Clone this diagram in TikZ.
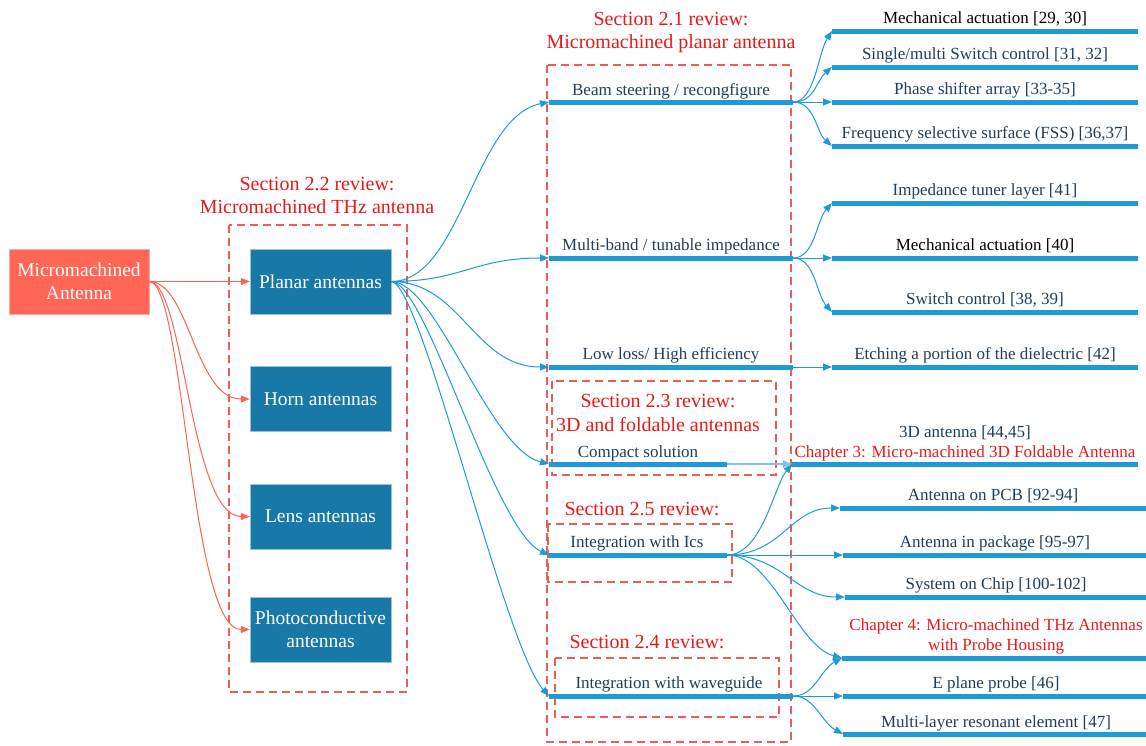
\documentclass[tikz,border=0pt]{standalone}
\usepackage{fontspec}
\setmainfont{Liberation Serif}
\usetikzlibrary{arrows.meta}
\definecolor{salmon}{RGB}{255,102,85}
\definecolor{boxblue}{RGB}{24,120,168}
\definecolor{barblue}{RGB}{30,155,215}
\definecolor{lightbar}{RGB}{125,195,232}
\definecolor{txt}{RGB}{30,62,90}
\definecolor{secred}{RGB}{232,25,25}
\definecolor{dashred}{RGB}{232,95,85}
\definecolor{redline}{RGB}{250,100,85}
\tikzset{
  rootbox/.style={fill=salmon, draw=salmon!55!white, text=white, minimum width=140, minimum height=65, align=center, inner sep=0, font=\fontsize{19.5}{23}\selectfont},
  antbox/.style={fill=boxblue, draw=boxblue!45!white, text=white, minimum width=141, minimum height=65, align=center, inner sep=0, font=\fontsize{19.5}{23}\selectfont},
  barline/.style={draw=barblue, line width=5pt},
  conn/.style={draw=barblue, line width=1pt, -{Triangle[length=9pt,width=7pt]}},
  rconn/.style={draw=redline, line width=1pt, -{Triangle[length=9pt,width=7pt]}},
  lbl/.style={text=txt, anchor=base, inner sep=0, font=\fontsize{17}{20}\selectfont},
  blbl/.style={text=black, anchor=base, inner sep=0, font=\fontsize{17}{20}\selectfont},
  clbl/.style={text=secred, anchor=base, inner sep=0, font=\fontsize{17}{20}\selectfont},
  sec/.style={text=secred, anchor=base, inner sep=0, font=\fontsize{20}{24}\selectfont},
  secbox/.style={draw=dashred, dash pattern=on 8pt off 5pt, line width=1.2pt}
}
\begin{document}
\begin{tikzpicture}[x=1pt,y=-1pt]
\useasboundingbox (0,0) rectangle (1146,745);

% ---------- left column ----------
\node[rootbox] (ma) at (79,281.5) {Micromachined\\Antenna};
\draw[secbox] (229,225) rectangle (407,692);
\node[sec] (t22a) at (317,190) {Section 2.2 review:};
\node[sec] (t22b) at (317,213) {Micromachined THz antenna};
\node[antbox] (pa) at (320.5,281.5) {Planar antennas};
\node[antbox] (ha) at (320.5,399) {Horn antennas};
\node[antbox] (la) at (320.5,516.5) {Lens antennas};
\node[antbox] (pc) at (320.5,629.5) {Photoconductive\\antennas};

\draw[rconn] (ma.east) -- (pa.west);
\draw[rconn] (ma.east) .. controls +(40,0) and +(-55,0) .. (ha.west);
\draw[rconn] (ma.east) .. controls +(35,0) and +(-60,0) .. (la.west);
\draw[rconn] (ma.east) .. controls +(35,0) and +(-60,0) .. (pc.west);

% ---------- section boxes ----------
\draw[secbox] (547,65) rectangle (791,742);
\draw[secbox] (552,381) rectangle (776,475);
\draw[secbox] (548,524) rectangle (732,582);
\draw[secbox] (555,658) rectangle (779,717);
\node[sec] (t21a) at (671,25) {Section 2.1 review:};
\node[sec] (t21b) at (671,48) {Micromachined planar antenna};
\node[sec] (t23a) at (658,407) {Section 2.3 review:};
\node[sec] (t23b) at (658,431) {3D and foldable antennas};
\node[sec] (t25) at (642,515) {Section 2.5 review:};
\node[sec] (t24) at (647,648) {Section 2.4 review:};

% ---------- middle bars ----------
\coordinate (bsL) at (549,102); \coordinate (bsR) at (793,102);
\coordinate (mbL) at (549,258); \coordinate (mbR) at (793,258);
\coordinate (llL) at (549,367); \coordinate (llR) at (793,367);
\coordinate (csL) at (549,464); \coordinate (csR) at (727,464);
\coordinate (icL) at (549,555); \coordinate (icR) at (727,555);
\coordinate (wgL) at (549,696); \coordinate (wgR) at (793,696);
\foreach \a in {bs,mb,ll,cs,ic,wg} { \draw[barline] (\a L) -- (\a R); }
\node[lbl] (lbs) at (671,95) {Beam steering / recongfigure};
\node[lbl] (lmb) at (671,250) {Multi-band / tunable impedance};
\node[lbl] (lll) at (671,359) {Low loss/ High efficiency};
\node[lbl] (lcs) at (638,457) {Compact solution};
\node[lbl] (lic) at (637,547) {Integration with Ics};
\node[lbl] (lwg) at (669,688) {Integration with waveguide};

\draw[conn] (pa.east) .. controls +(70,0) and +(-75,15) .. (bsL);
\draw[conn] (pa.east) .. controls +(70,0) and +(-75,0) .. (mbL);
\draw[conn] (pa.east) .. controls +(70,0) and +(-75,0) .. (llL);
\draw[conn] (pa.east) .. controls +(45,0) and +(-60,-15) .. (csL);
\draw[conn] (pa.east) .. controls +(35,0) and +(-55,-25) .. (icL);
\draw[conn] (pa.east) .. controls +(30,0) and +(-45,-50) .. (wgL);

% ---------- right bars ----------
\coordinate (m1L) at (832,31);  \coordinate (m1R) at (1138,31);
\coordinate (smL) at (832,67);  \coordinate (smR) at (1138,67);
\coordinate (psL) at (832,102); \coordinate (psR) at (1138,102);
\coordinate (fsL) at (832,146); \coordinate (fsR) at (1138,146);
\coordinate (itL) at (832,203); \coordinate (itR) at (1138,203);
\coordinate (m2L) at (832,258); \coordinate (m2R) at (1138,258);
\coordinate (scL) at (832,312); \coordinate (scR) at (1138,312);
\coordinate (etL) at (832,367); \coordinate (etR) at (1138,367);
\coordinate (c3L) at (792,464); \coordinate (c3R) at (1138,464);
\coordinate (pcbL) at (840,508); \coordinate (pcbR) at (1146,508);
\coordinate (aipL) at (843,555); \coordinate (aipR) at (1146,555);
\coordinate (socL) at (845,597); \coordinate (socR) at (1146,597);
\coordinate (c4L) at (842,658); \coordinate (c4R) at (1146,658);
\coordinate (epL) at (843,696); \coordinate (epR) at (1146,696);
\coordinate (mlL) at (843,734); \coordinate (mlR) at (1146,734);
\foreach \a in {m1,sm,ps,fs,it,m2,sc,et,c3,pcb,aip,soc,c4,ep,ml} { \draw[barline] (\a L) -- (\a R); }

\node[blbl] (lm1) at (985,23) {Mechanical actuation [29, 30]};
\node[lbl] (lsm) at (985,59) {Single/multi Switch control [31, 32]};
\node[lbl] (lps) at (985,94) {Phase shifter array [33-35]};
\node[lbl] (lfs) at (985,138) {Frequency selective surface (FSS) [36,37]};
\node[lbl] (lit) at (985,195) {Impedance tuner layer [41]};
\node[blbl] (lm2) at (985,250) {Mechanical actuation [40]};
\node[lbl] (lsc) at (985,304) {Switch control [38, 39]};
\node[lbl] (let) at (985,359) {Etching a portion of the dielectric [42]};
\node[lbl] (l3d) at (965,437) {3D antenna [44,45]};
\node[clbl] (lc3) at (965,457) {Chapter 3: Micro-machined 3D Foldable Antenna};
\node[lbl] (lpcb) at (993,500) {Antenna on PCB [92-94]};
\node[lbl] (laip) at (995,547) {Antenna in package [95-97]};
\node[lbl] (lsoc) at (996,589) {System on Chip [100-102]};
\node[clbl] (lc4a) at (996,630) {Chapter 4: Micro-machined THz Antennas};
\node[clbl] (lc4b) at (996,650) {with Probe Housing};
\node[lbl] (lep) at (996,688) {E plane probe [46]};
\node[lbl] (lml) at (996,727) {Multi-layer resonant element [47]};

% beam steering fan
\draw[conn] (bsR) .. controls +(22,0) and +(-14,22) .. (m1L);
\draw[conn] (bsR) .. controls +(22,0) and +(-16,14) .. (smL);
\draw[conn] (bsR) -- (psL);
\draw[conn] (bsR) .. controls +(22,0) and +(-16,-14) .. (fsL);
% multi-band fan
\draw[conn] (mbR) .. controls +(22,0) and +(-16,18) .. (itL);
\draw[conn] (mbR) -- (m2L);
\draw[conn] (mbR) .. controls +(22,0) and +(-16,-18) .. (scL);
% low loss
\draw[conn] (llR) -- (etL);
% compact
\draw[draw=lightbar, line width=2pt, -{Triangle[length=9pt,width=7pt]}] (csR) -- (c3L);
% Ics fan
\draw[conn] (icR) .. controls +(35,0) and +(-18,22) .. (c3L);
\draw[conn] (icR) .. controls +(55,0) and +(-50,0) .. (pcbL);
\draw[conn] (icR) -- (aipL);
\draw[conn] (icR) .. controls +(55,0) and +(-50,0) .. (socL);
\draw[conn] (icR) .. controls +(45,0) and +(-45,-12) .. (c4L);
% waveguide fan
\draw[conn] (wgR) .. controls +(22,0) and +(-22,12) .. (c4L);
\draw[conn] (wgR) -- (epL);
\draw[conn] (wgR) .. controls +(22,0) and +(-22,-12) .. (mlL);
\end{tikzpicture}
\end{document}
